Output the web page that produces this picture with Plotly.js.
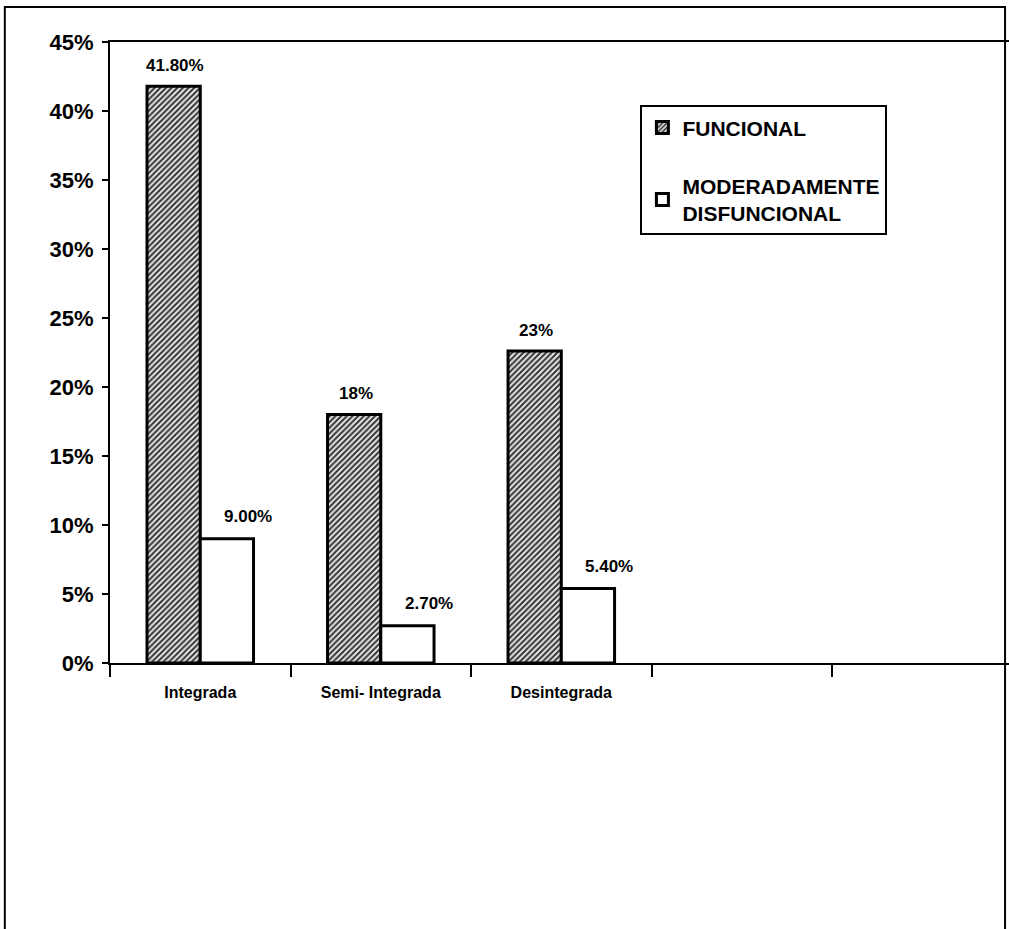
<!DOCTYPE html>
<html><head><meta charset="utf-8">
<script src="https://cdn.plot.ly/plotly-3.0.1.min.js"></script>
<style>html,body{margin:0;padding:0;background:#fff;}#chart{width:1009px;height:929px;}</style>
</head><body><div id="chart"></div>
<script>
const categories = ['Integrada', 'Semi- Integrada', 'Desintegrada', ' ', '  '];
const seriesNames = ['FUNCIONAL', 'MODERADAMENTE<br>DISFUNCIONAL'];
const funcional = [0.418, 0.18, 0.226];
const moderada = [0.09, 0.027, 0.054];
const funcionalLabels = ['41.80%', '18%', '23%'];
const moderadaLabels = ['9.00%', '2.70%', '5.40%'];
const yTickVals = [0, 0.05, 0.10, 0.15, 0.20, 0.25, 0.30, 0.35, 0.40, 0.45];

const FONT = 'Arial, "Liberation Sans", sans-serif';
const used = categories.slice(0, funcional.length);

const traces = [
  {type:'bar', name:seriesNames[0], x:used, y:funcional, legendgroup:'a',
   marker:{color:'#fff', line:{color:'#000', width:3},
     pattern:{shape:'/', fgcolor:'#333', bgcolor:'#e8e8e8', size:4, solidity:0.5}},
   hoverinfo:'skip'},
  {type:'bar', name:seriesNames[1], x:used, y:moderada, legendgroup:'b',
   marker:{color:'#fff', line:{color:'#000', width:3}}, hoverinfo:'skip'}
];

const annotations = [];
used.forEach((c, i) => {
  annotations.push({x:c, y:funcional[i], xref:'x', yref:'y', text:funcionalLabels[i], showarrow:false,
    xshift:-25, yshift:21, yanchor:'middle', font:{family:FONT, size:17, weight:'bold', color:'#000'}});
  annotations.push({x:c, y:moderada[i], xref:'x', yref:'y', text:moderadaLabels[i], showarrow:false,
    xshift:48, yshift:22, yanchor:'middle', font:{family:FONT, size:17, weight:'bold', color:'#000'}});
});

const layout = {
  width:1009, height:929,
  margin:{l:110, r:0, t:42, b:266},
  paper_bgcolor:'#fff', plot_bgcolor:'#fff',
  barmode:'group', bargap:0.41, bargroupgap:0,
  showlegend:true,
  legend:{x:0.59, y:0.898, xanchor:'left', yanchor:'top', bgcolor:'#fff', bordercolor:'#000', borderwidth:2,
    font:{family:FONT, size:21, weight:'bold', color:'#000'}, traceorder:'grouped', tracegroupgap:28,
    itemwidth:30},
  xaxis:{type:'category', categoryorder:'array', categoryarray:categories, range:[-0.5, 4.48],
    tickson:'boundaries', ticks:'outside', ticklen:12, tickwidth:2, tickcolor:'#000',
    showline:true, linecolor:'#000', linewidth:2, mirror:true, showgrid:false, zeroline:false,
    ticklabelstandoff:14,
    tickfont:{family:FONT, size:16, weight:'bold', color:'#000'}, fixedrange:true},
  yaxis:{range:[0, 0.45], tickvals:yTickVals, tickformat:'.0%', ticks:'outside', ticklen:6, tickwidth:2,
    tickcolor:'#000', showline:true, linecolor:'#000', linewidth:2, showgrid:false, zeroline:false,
    tickfont:{family:FONT, size:22, weight:'bold', color:'#000'}, ticklabelstandoff:4, fixedrange:true},
  annotations:annotations,
  shapes:[{type:'rect', xref:'paper', yref:'paper', x0:-0.117, x1:0.9956, y0:-0.5, y1:1.0564,
    line:{color:'#000', width:2}, fillcolor:'rgba(0,0,0,0)', layer:'below'}]
};

Plotly.newPlot('chart', traces, layout, {staticPlot:true});
</script></body></html>
